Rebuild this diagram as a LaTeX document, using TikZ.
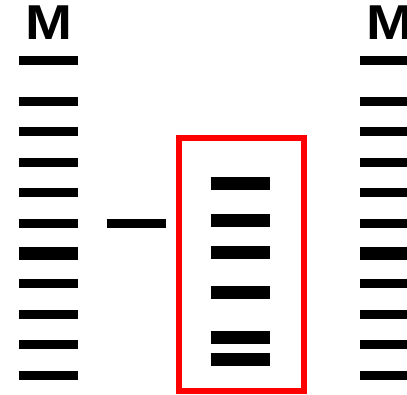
\documentclass[tikz,border=0pt]{standalone}
\usepackage{fontspec}
\setmainfont{Liberation Sans}
\begin{document}
\begin{tikzpicture}[x=1pt,y=-1pt,
  band/.style={fill=black},
  lbl/.style={inner sep=0pt,font=\fontsize{49}{49}\selectfont\bfseries,xscale=1.15}]
\useasboundingbox (0,0) rectangle (407,394);
\node[lbl] (mL) at (49,22.5) {M};
\node[lbl] (mR) at (389.5,22.5) {M};
% ladder left and right
\foreach \ya/\yb in {56/65,97/106,127/136,158/167,188/197,219/228,247/260,279/288,310/319,340/349,371/380}{
  \fill[band] (19,\ya) rectangle (78,\yb);
  \fill[band] (360,\ya) rectangle (419,\yb);
}
% single middle band
\fill[band] (107,219) rectangle (166,228);
% red box
\draw[red,line width=6pt] (179,138) rectangle (304,391);
\foreach \ya/\yb in {177/190,214/227,246/259,286/299,331/344,353/366}{
  \fill[band] (211,\ya) rectangle (270,\yb);
}
\end{tikzpicture}
\end{document}
